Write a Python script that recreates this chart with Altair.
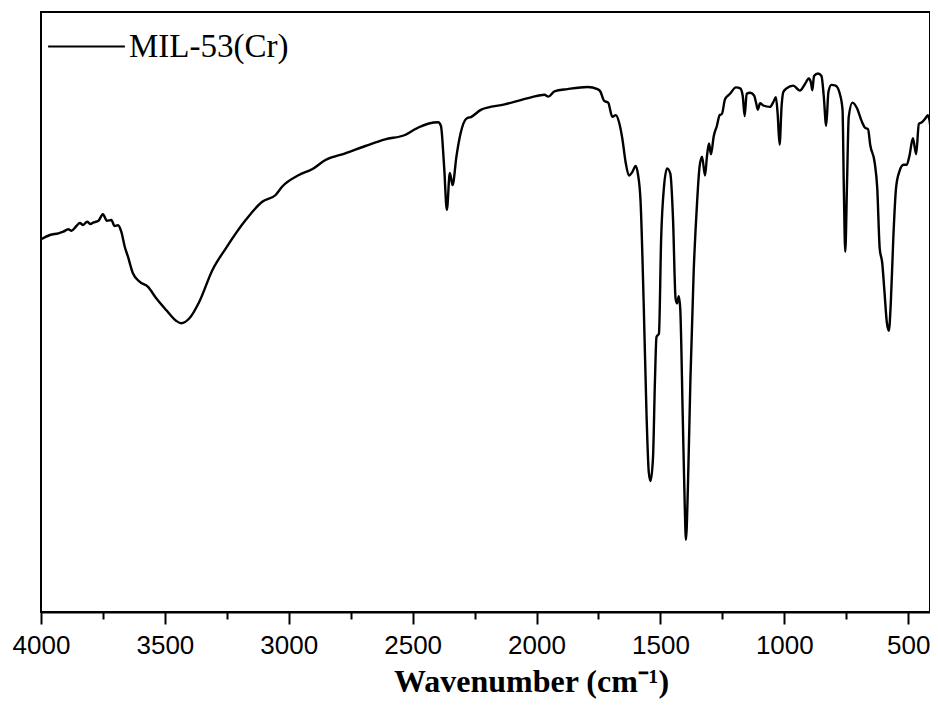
import altair as alt
import pandas as pd

# Wavenumber (cm-1)
wavenumber = [
    4000, 3964, 3930, 3910, 3890, 3877, 3857, 3843, 3830, 3814, 3800, 3790, 3768, 3750,
    3734, 3716, 3703, 3689, 3676, 3662, 3649, 3629, 3602, 3569, 3535, 3495, 3455, 3434,
    3401, 3361, 3308, 3254, 3174, 3107, 3053, 3027, 2959, 2906, 2852, 2772, 2691, 2611,
    2531, 2491, 2477, 2397, 2386, 2373, 2362, 2350, 2339, 2323, 2306, 2283, 2263, 2223,
    2129, 2022, 1968, 1952, 1928, 1875, 1794, 1754, 1743, 1727, 1711, 1694, 1680, 1667,
    1654, 1640, 1627, 1613, 1600, 1591, 1580, 1567, 1556, 1547, 1540, 1530, 1522, 1516,
    1506, 1497, 1486, 1473, 1460, 1449, 1439, 1433, 1426, 1420, 1410, 1402, 1397, 1389,
    1379, 1366, 1352, 1342, 1332, 1320, 1312, 1304, 1296, 1285, 1272, 1261, 1252, 1239,
    1219, 1195, 1178, 1168, 1160, 1152, 1138, 1122, 1114, 1107, 1098, 1085, 1058, 1044,
    1034, 1027, 1019, 1011, 1004, 991, 964, 937, 917, 901, 892, 887, 880, 864,
    850, 841, 831, 822, 810, 793, 776, 765, 760, 754, 747, 740, 725, 707,
    689, 675, 662, 653, 635, 625, 615, 605, 596, 586, 578, 570, 560, 549,
    536, 519, 506, 495, 481, 468, 457, 444, 431, 421, 414, 403,
]

# Transmittance (arbitrary units)
transmittance = [
    370.7, 375.0, 376.7, 378.3, 380.7, 379.3, 384.0, 387.0, 385.0, 388.3, 386.0, 387.3, 389.3, 395.7,
    389.3, 390.0, 384.0, 384.7, 378.3, 363.3, 353.3, 336.7, 328.3, 323.3, 311.7, 300.0, 289.3, 286.7,
    291.7, 308.3, 340.0, 361.7, 390.0, 408.3, 415.0, 423.3, 435.0, 440.7, 450.0, 456.7, 464.0, 470.7,
    475.0, 480.7, 482.5, 487.8, 484.3, 443.4, 400.1, 437.0, 424.9, 454.1, 477.2, 491.4, 493.2, 500.3,
    505.6, 512.7, 515.2, 513.4, 518.7, 520.9, 523.0, 520.9, 518.7, 509.1, 507.4, 493.2, 494.9, 487.8,
    471.8, 447.0, 434.5, 438.1, 444.1, 436.3, 407.9, 301.3, 194.7, 137.8, 129.0, 152.1, 230.2, 272.9,
    276.4, 372.3, 422.1, 441.6, 436.3, 390.1, 311.9, 306.6, 313.7, 301.3, 194.7, 105.9, 70.3, 123.6,
    230.2, 336.8, 407.9, 443.4, 453.4, 434.5, 454.1, 466.5, 455.8, 473.6, 484.3, 494.9, 496.0, 510.9,
    516.2, 522.6, 521.6, 514.5, 493.9, 516.2, 517.3, 514.5, 507.4, 500.3, 506.7, 504.5, 503.1, 508.1,
    512.7, 496.7, 465.4, 503.8, 518.0, 521.6, 524.4, 519.4, 525.8, 531.5, 526.9, 519.8, 534.0, 536.5,
    534.0, 514.5, 484.3, 518.0, 525.1, 524.4, 516.2, 500.3, 425.6, 358.1, 425.6, 493.2, 507.4, 502.0,
    489.6, 482.5, 480.7, 464.7, 447.0, 422.1, 361.7, 347.5, 319.1, 287.1, 279.3, 308.4, 372.3, 422.1,
    438.1, 445.2, 445.2, 454.1, 471.8, 455.8, 486.0, 487.8, 491.4, 494.9, 489.6, 463.0,
]

series_name = "MIL-53(Cr)"
x_ticks = [4000, 3750, 3500, 3250, 3000, 2750, 2500, 2250, 2000, 1750, 1500, 1250, 1000, 750, 500]

df = pd.DataFrame({"wn": wavenumber, "t": transmittance, "sample": series_name})

chart = (
    alt.Chart(df)
    .mark_line(strokeWidth=2.4, interpolate="monotone", clip=True)
    .encode(
        x=alt.X(
            "wn:Q",
            scale=alt.Scale(domain=[4000, 412], nice=False, zero=False),
            axis=alt.Axis(
                title="Wavenumber (cm⁻¹)",
                values=x_ticks,
                labelExpr="datum.value % 500 === 0 ? datum.label : ''",
                format="d",
                grid=False,
                domainColor="black",
                domainWidth=2,
                tickColor="black",
                tickWidth=2,
                tickSize={"condition": {"test": "datum.value % 500 === 0", "value": 12}, "value": 7},
                labelFont="Liberation Sans",
                labelFontSize=26,
                labelColor="black",
                labelPadding=8,
                labelFlush=False,
                labelOverlap=False,
                titleFont="Liberation Serif",
                titleFontSize=32,
                titleFontWeight="bold",
                titleColor="black",
                titlePadding=8,
                titleX=490,
                titleAlign="center",
            ),
        ),
        y=alt.Y("t:Q", scale=alt.Scale(domain=[-2, 598], nice=False, zero=False), axis=None),
        color=alt.Color(
            "sample:N",
            scale=alt.Scale(range=["black"]),
            legend=alt.Legend(
                title=None,
                orient="none",
                legendX=6,
                legendY=-5,
                symbolType="stroke",
                symbolSize=5900,
                symbolStrokeWidth=2,
                labelFont="Liberation Serif",
                labelFontSize=33,
                labelColor="black",
                labelOffset=3,
                padding=0,
            ),
        ),
        order=alt.Order("wn:Q", sort="descending"),
    )
    .properties(
        width=889,
        height=600,
        autosize=alt.AutoSizeParams(type="none"),
        padding={"left": 33, "top": 4, "right": 0, "bottom": 88},
    )
    .configure_view(stroke="black", strokeWidth=2)
)

chart.save("out.html", embed_options={"renderer": "svg", "actions": False})
